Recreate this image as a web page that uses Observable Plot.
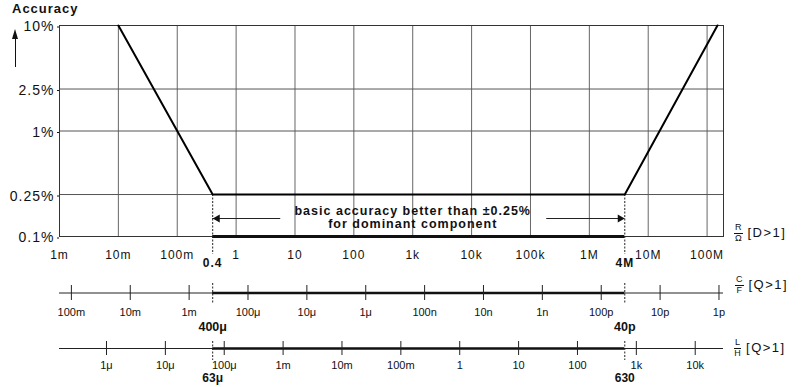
<!DOCTYPE html>
<html><head><meta charset="utf-8">
<script src="https://cdn.jsdelivr.net/npm/d3@7"></script>
<script src="https://cdn.jsdelivr.net/npm/@observablehq/plot@0.6"></script>
<style>
html,body{margin:0;padding:0;background:#fff;}
#wrap{position:relative;width:809px;height:387px;overflow:hidden;font-family:"Liberation Sans",Arial,sans-serif;color:#111;}
#wrap svg{position:absolute;left:0;}
.title{position:absolute;left:12px;top:2px;font-weight:bold;font-size:13px;letter-spacing:1px;line-height:14px;}
.uparrow-head{position:absolute;left:12px;top:29px;width:0;height:0;border-left:3.5px solid transparent;border-right:3.5px solid transparent;border-bottom:10px solid #111;}
.uparrow-shaft{position:absolute;left:14.8px;top:37px;width:1.5px;height:30px;background:#111;}
.side{position:absolute;display:flex;align-items:center;gap:5px;font-size:13px;letter-spacing:1.5px;line-height:14px;}
.frac{display:inline-flex;flex-direction:column;align-items:center;font-size:9px;line-height:9px;letter-spacing:0;}
.frac .num{border-bottom:1px solid #111;padding:0 1px 1px;}
</style>
</head>
<body>
<div id="wrap">
  <div class="title">Accuracy</div>
  <div class="uparrow-head"></div>
  <div class="uparrow-shaft"></div>
  <div class="side" style="left:734px;top:223px"><span class="frac"><span class="num">R</span><span>Ω</span></span><span>[D&gt;1]</span></div>
  <div class="side" style="left:735px;top:275px"><span class="frac"><span class="num">C</span><span>F</span></span><span>[Q&gt;1]</span></div>
  <div class="side" style="left:734px;top:338px"><span class="frac"><span class="num">L</span><span>H</span></span><span>[Q&gt;1]</span></div>
</div>
<script>
// ---------- data ----------
const Rmin = 1e-3, Rmax = 1.9e8;          // resistance range of the main axis (ohm)
const testFreq = 1000;                     // Hz, conversion R <-> C, L
const k = 1 / (2 * Math.PI * testFreq);

const rTicks = [1e-3, 1e-2, 1e-1, 1, 10, 100, 1e3, 1e4, 1e5, 1e6, 1e7, 1e8];
const rLabels = ["1m", "10m", "100m", "1", "10", "100", "1k", "10k", "100k", "1M", "10M", "100M"];

const accTicks = [0.1, 0.25, 1, 2.5, 10];
const accLabels = ["0.1%", "0.25%", "1%", "2.5%", "10%"];

const accR = [0.01, 0.4, 4e6, 1.5e8];      // accuracy curve, ohm
const accPct = [10, 0.25, 0.25, 10];        // accuracy curve, %

const basicR = [0.4, 4e6];
const basicRLabels = ["0.4", "4M"];
const basicPct = 0.25;
const noteLines = ["basic accuracy better than ±0.25%", "for dominant component"];

const cTicks = [1e-1, 1e-2, 1e-3, 1e-4, 1e-5, 1e-6, 1e-7, 1e-8, 1e-9, 1e-10, 1e-11, 1e-12];
const cLabels = ["100m", "10m", "1m", "100μ", "10μ", "1μ", "100n", "10n", "1n", "100p", "10p", "1p"];
const cBasicLabels = ["400μ", "40p"];

const lTicks = [1e-6, 1e-5, 1e-4, 1e-3, 1e-2, 1e-1, 1, 10, 100, 1e3, 1e4];
const lLabels = ["1μ", "10μ", "100μ", "1m", "10m", "100m", "1", "10", "100", "1k", "10k"];
const lBasicLabels = ["63μ", "630"];

// ---------- helpers ----------
const fmt = (ticks, labels) => { const m = new Map(ticks.map((t, i) => [t, labels[i]])); return d => m.get(d); };
const font = "Liberation Sans, Arial, sans-serif";
const wrap = document.getElementById("wrap");

// ---------- main chart ----------
const mid = Math.sqrt(basicR[0] * basicR[1]);
const yA = Math.sqrt(0.1 * basicPct);
const curve = accR.map((r, i) => ({r, p: accPct[i]}));

const main = Plot.plot({
  width: 809, height: 275,
  marginTop: 25, marginBottom: 39, marginLeft: 59, marginRight: 86,
  style: {fontFamily: font, fontSize: "12px", background: "transparent", color: "#111", letterSpacing: "1px"},
  x: {type: "log", domain: [Rmin, Rmax], label: null},
  y: {type: "log", domain: [0.1, 10], label: null},
  marks: [
    Plot.ruleX(rTicks.slice(1), {stroke: "#666", strokeWidth: 1}),
    Plot.ruleY(accTicks, {stroke: "#555", strokeWidth: 1}),
    Plot.frame({stroke: "#333"}),
    Plot.axisY({ticks: accTicks, tickFormat: fmt(accTicks, accLabels), tickSize: 2, tickPadding: 3, fontSize: 14, dy: 1.5, label: null}),
    Plot.axisX({ticks: rTicks, tickFormat: fmt(rTicks, rLabels), tickSize: 0, tickPadding: 14, fontSize: 12, label: null}),
    Plot.ruleY([0.1], {x1: basicR[0], x2: basicR[1], stroke: "#111", strokeWidth: 3}),
    Plot.ruleX(basicR, {x: d => d, y1: basicPct, y2: 0.1, insetBottom: -18, stroke: "#222", strokeDasharray: "2,1.5"}),
    Plot.line(curve, {x: "r", y: "p", stroke: "#000", strokeWidth: 2}),
    Plot.ruleY([yA], {x1: basicR[0], x2: mid, insetRight: 138, dy: 3, stroke: "#222"}),
    Plot.ruleY([yA], {x1: mid, x2: basicR[1], insetLeft: 128, dy: 3, stroke: "#222"}),
    Plot.dot([basicR[0]], {x: d => d, y: () => yA, symbol: "triangle", rotate: -90, r: 3, fill: "#111", stroke: "none", dx: 4.7, dy: 3}),
    Plot.dot([basicR[1]], {x: d => d, y: () => yA, symbol: "triangle", rotate: 90, r: 3, fill: "#111", stroke: "none", dx: -4.7, dy: 3}),
    Plot.text([noteLines.join("\n")], {x: () => mid, y: () => yA, text: d => d, fontWeight: "bold", fontSize: 12.5, lineHeight: 1.1, dx: -6, dy: 1.5}),
    Plot.text(basicR, {x: d => d, text: (d, i) => basicRLabels[i], frameAnchor: "bottom", dy: 30, fontWeight: "bold", fontSize: 12})
  ]
});
main.style.top = "0px";
wrap.appendChild(main);

// ---------- capacitance axis ----------
const cAxis = Plot.plot({
  width: 809, height: 66,
  marginTop: 15, marginBottom: 36, marginLeft: 59, marginRight: 86,
  style: {fontFamily: font, fontSize: "11px", background: "transparent", color: "#111"},
  x: {type: "log", domain: [k / Rmin, k / Rmax], label: null},
  y: {domain: [-1, 1], axis: null},
  marks: [
    Plot.ruleY([0], {stroke: "#222", strokeWidth: 1}),
    Plot.ruleY([0], {x1: k / basicR[0], x2: k / basicR[1], stroke: "#111", strokeWidth: 2.4}),
    Plot.tickX(cTicks, {x: d => d, stroke: "#222"}),
    Plot.ruleX(basicR.map(r => k / r), {x: d => d, insetTop: -2, insetBottom: -3, stroke: "#222", strokeDasharray: "2,1.5"}),
    Plot.axisX({ticks: cTicks, tickFormat: fmt(cTicks, cLabels), tickSize: 0, tickPadding: 8, fontSize: 11, label: null}),
    Plot.text(basicR.map(r => k / r), {x: d => d, text: (d, i) => cBasicLabels[i], frameAnchor: "bottom", dy: 30, fontWeight: "bold", fontSize: 12.5})
  ]
});
cAxis.style.top = "270px";
wrap.appendChild(cAxis);

// ---------- inductance axis ----------
const lAxis = Plot.plot({
  width: 809, height: 59,
  marginTop: 13, marginBottom: 32, marginLeft: 59, marginRight: 86,
  style: {fontFamily: font, fontSize: "11px", background: "transparent", color: "#111"},
  x: {type: "log", domain: [k * Rmin, k * Rmax], label: null},
  y: {domain: [-1, 1], axis: null},
  marks: [
    Plot.ruleY([0], {stroke: "#222", strokeWidth: 1}),
    Plot.ruleY([0], {x1: k * basicR[0], x2: k * basicR[1], stroke: "#111", strokeWidth: 2.4}),
    Plot.tickX(lTicks, {x: d => d, stroke: "#222"}),
    Plot.ruleX(basicR.map(r => k * r), {x: d => d, insetTop: 0, insetBottom: -5, stroke: "#222", strokeDasharray: "2,1.5"}),
    Plot.axisX({ticks: lTicks, tickFormat: fmt(lTicks, lLabels), tickSize: 0, tickPadding: 6, fontSize: 11, label: null}),
    Plot.text(basicR.map(r => k * r), {x: d => d, text: (d, i) => lBasicLabels[i], frameAnchor: "bottom", dy: 26, fontWeight: "bold", fontSize: 12})
  ]
});
lAxis.style.top = "328px";
wrap.appendChild(lAxis);
</script>
</body></html>
